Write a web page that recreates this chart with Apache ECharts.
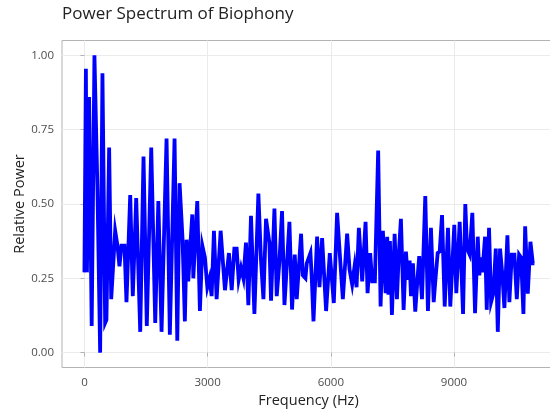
<!DOCTYPE html>
<html>
<head>
<meta charset="utf-8">
<script src="https://cdn.jsdelivr.net/npm/echarts@6/dist/echarts.min.js"></script>
<style>
html,body{margin:0;padding:0;background:#fff;}
#chart{width:550px;height:411px;}
</style>
</head>
<body>
<div id="chart"></div>
<script>
const chartTitle = "Power Spectrum of Biophony";
const xTitle = "Frequency (Hz)";
const yTitle = "Relative Power";
const xTicks = [0, 3000, 6000, 9000];
const yTicks = [0, 0.25, 0.5, 0.75, 1];

const frequency = [
  0, 36, 61, 114, 177, 244, 317, 383, 439, 505, 536, 602, 652, 749, 805, 853, 903, 976, 1024, 1115,
  1178, 1261, 1359, 1439, 1519, 1627, 1724, 1800, 1878, 2000, 2080, 2195, 2261, 2317, 2390, 2446, 2488, 2529, 2579, 2627,
  2651, 2748, 2812, 2871, 2934, 2993, 3048, 3098, 3154, 3219, 3317, 3422, 3519, 3586, 3651, 3707, 3756, 3813, 3871, 3934,
  3992, 4056, 4139, 4236, 4300, 4359, 4422, 4504, 4544, 4627, 4683, 4748, 4812, 4871, 4992, 5056, 5122, 5170, 5276, 5317,
  5382, 5414, 5504, 5537, 5578, 5666, 5724, 5788, 5885, 5975, 6073, 6153, 6236, 6293, 6397, 6456, 6520, 6578, 6627, 6683,
  6764, 6846, 6895, 6958, 7008, 7073, 7153, 7212, 7268, 7334, 7373, 7402, 7439, 7488, 7554, 7610, 7651, 7707, 7773, 7829,
  7878, 7919, 7952, 8000, 8056, 8122, 8153, 8220, 8300, 8365, 8438, 8505, 8544, 8602, 8651, 8708, 8773, 8853, 8909, 9007,
  9056, 9138, 9220, 9275, 9317, 9380, 9446, 9512, 9578, 9616, 9658, 9690, 9756, 9797, 9853, 9902, 9959, 10017, 10066, 10121,
  10178, 10227, 10300, 10348, 10407, 10471, 10529, 10585, 10633, 10690, 10732, 10796, 10861, 10919, 10958
];

const power = [
  0.27, 0.955, 0.27, 0.86, 0.09, 1.00, 0.55, 0.00, 0.94, 0.10, 0.11, 0.69, 0.18, 0.41, 0.36, 0.29, 0.36, 0.36, 0.17, 0.53,
  0.19, 0.52, 0.07, 0.66, 0.09, 0.69, 0.10, 0.51, 0.07, 0.72, 0.06, 0.72, 0.04, 0.57, 0.38, 0.105, 0.38, 0.24, 0.36, 0.465,
  0.25, 0.51, 0.14, 0.36, 0.32, 0.22, 0.25, 0.19, 0.41, 0.18, 0.41, 0.21, 0.335, 0.21, 0.35, 0.35, 0.245, 0.285, 0.25, 0.37,
  0.16, 0.46, 0.13, 0.535, 0.31, 0.18, 0.45, 0.37, 0.175, 0.485, 0.19, 0.305, 0.476, 0.16, 0.44, 0.145, 0.33, 0.18, 0.40, 0.26,
  0.25, 0.30, 0.335, 0.25, 0.105, 0.39, 0.22, 0.385, 0.14, 0.335, 0.167, 0.47, 0.296, 0.18, 0.40, 0.28, 0.23, 0.29, 0.22, 0.42,
  0.24, 0.44, 0.20, 0.335, 0.24, 0.24, 0.68, 0.155, 0.41, 0.20, 0.39, 0.195, 0.375, 0.127, 0.40, 0.18, 0.32, 0.45, 0.144, 0.34,
  0.245, 0.31, 0.19, 0.30, 0.138, 0.27, 0.325, 0.18, 0.527, 0.14, 0.42, 0.17, 0.24, 0.335, 0.34, 0.463, 0.155, 0.42, 0.155, 0.43,
  0.20, 0.44, 0.13, 0.50, 0.35, 0.33, 0.47, 0.133, 0.39, 0.26, 0.32, 0.27, 0.39, 0.144, 0.42, 0.17, 0.20, 0.35, 0.07, 0.35,
  0.26, 0.15, 0.395, 0.17, 0.33, 0.33, 0.18, 0.33, 0.32, 0.13, 0.425, 0.198, 0.373, 0.30, 0.30
];

const seriesData = frequency.map((f, i) => [f, power[i]]);
const FONT = "'Open Sans', 'DejaVu Sans', sans-serif";

const chart = echarts.init(document.getElementById('chart'), null, {renderer: 'canvas'});
chart.setOption({
  animation: false,
  backgroundColor: '#ffffff',
  title: {
    text: chartTitle,
    left: 62,
    top: 6,
    padding: 0,
    textStyle: {fontFamily: FONT, fontSize: 17, fontWeight: 'normal', color: '#222222'}
  },
  grid: {
    left: 62,
    top: 40.5,
    width: 493,
    height: 327,
    show: true,
    borderColor: '#B3B3B3',
    borderWidth: 1,
    backgroundColor: '#ffffff',
    containLabel: false,
    outerBoundsMode: 'none'
  },
  xAxis: {
    type: 'value',
    min: -546,
    max: 11459,
    name: xTitle,
    nameLocation: 'middle',
    nameGap: 26,
    nameMoveOverlap: false,
    nameTextStyle: {fontFamily: FONT, fontSize: 14.5, color: '#222222'},
    axisLine: {show: false},
    axisTick: {show: true, length: 4, inside: false, customValues: xTicks, lineStyle: {color: '#B3B3B3', width: 1}},
    axisLabel: {customValues: xTicks, margin: 9, fontFamily: FONT, fontSize: 11.5, color: '#4D4D4D',
      formatter: v => String(v)},
    splitLine: {show: true, lineStyle: {color: '#EBEBEB', width: 1}}
  },
  yAxis: {
    type: 'value',
    min: -0.05,
    max: 1.05,
    name: yTitle,
    nameLocation: 'middle',
    nameGap: 35,
    nameRotate: 90,
    nameMoveOverlap: false,
    nameTextStyle: {fontFamily: FONT, fontSize: 14.5, color: '#222222'},
    axisLine: {show: false},
    axisTick: {show: true, length: 4, inside: false, customValues: yTicks, lineStyle: {color: '#B3B3B3', width: 1}},
    axisLabel: {customValues: yTicks, margin: 8, fontFamily: FONT, fontSize: 11.5, color: '#4D4D4D',
      formatter: v => Number(v).toFixed(2)},
    splitLine: {show: true, lineStyle: {color: '#EBEBEB', width: 1}}
  },
  series: [{
    type: 'line',
    data: seriesData,
    showSymbol: false,
    symbol: 'none',
    clip: true,
    lineStyle: {color: '#0000FF', width: 3.8, join: 'miter'},
    emphasis: {disabled: true}
  }]
});
</script>
</body>
</html>
